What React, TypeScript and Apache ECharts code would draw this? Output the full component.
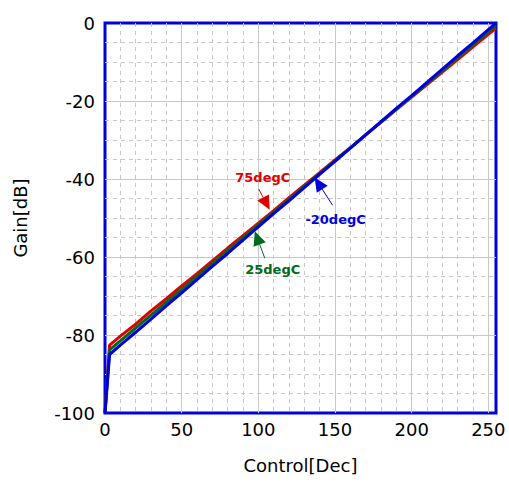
import React, { useEffect, useRef } from "react";
import * as echarts from "echarts";

const control = [0, 3, 10, 20, 30, 40, 50, 60, 70, 80, 90, 100, 110, 120, 130, 140, 150, 160, 170, 180, 190, 200, 210, 220, 230, 240, 250, 255];
const gain75 = [-100, -82.6, -80.3, -77.2, -73.8, -70.7, -67.4, -64.3, -61.0, -57.7, -54.5, -51.3, -48.1, -44.8, -41.6, -38.4, -35.1, -32.0, -28.7, -25.5, -22.2, -19.0, -15.8, -12.6, -9.4, -6.1, -2.9, -1.3];
const gain25 = [-100, -83.8, -81.5, -78.2, -74.9, -71.6, -68.3, -65.0, -61.7, -58.4, -55.1, -51.8, -48.5, -45.2, -41.9, -38.6, -35.3, -32.0, -28.7, -25.4, -22.1, -18.8, -15.5, -12.2, -8.9, -5.6, -2.3, -0.6];
const gainM20 = [-100, -85.0, -82.6, -79.3, -75.9, -72.5, -69.2, -65.8, -62.4, -59.1, -55.7, -52.3, -48.9, -45.6, -42.2, -38.8, -35.5, -32.1, -28.7, -25.3, -21.9, -18.6, -15.2, -11.8, -8.4, -5.1, -1.7, 0];

const seriesNames = ["75degC", "25degC", "-20degC"];
const seriesColors = ["#e00000", "#006a1e", "#0000dd"];

// annotation: label center, arrow tail, arrow tip (data coords)
const annotations = [
  { text: "75degC", color: "#e00000", label: [102.9, -39.7], tail: [100.3, -42.6], tip: [107.4, -47.9] },
  { text: "-20degC", color: "#0000dd", label: [150.4, -50.3], tail: [148.4, -46.7], tip: [136.7, -39.6] },
  { text: "25degC", color: "#006a1e", label: [109.4, -63.1], tail: [104.2, -60.3], tip: [97.7, -53.4] },
];

const FONT = "DejaVu Sans";

export default function App() {
  const ref = useRef<HTMLDivElement>(null);
  useEffect(() => {
    if (!ref.current) return;
    const chart = echarts.init(ref.current, null, { renderer: "svg" });
    const datas = [gain75, gain25, gainM20];
    const option: any = {
      animation: false,
      backgroundColor: "#ffffff",
      grid: {
        left: 105,
        right: 13,
        top: 23,
        bottom: 69,
        show: true,
        borderColor: "#0000dd",
        borderWidth: 3,
        backgroundColor: "transparent",
      },
      xAxis: {
        type: "value",
        min: 0,
        max: 255,
        interval: 50,
        name: "Control[Dec]",
        nameLocation: "middle",
        nameGap: 43,
        nameTextStyle: { fontFamily: FONT, fontSize: 18, color: "#000" },
        axisLine: { show: false },
        axisTick: { show: false },
        axisLabel: {
          fontFamily: FONT,
          fontSize: 18,
          color: "#000",
          margin: 7,
          showMaxLabel: false,
        },
        splitLine: { show: true, showMinLine: false, showMaxLine: false, lineStyle: { color: "#c8c8c8", width: 1 } },
        minorTick: { show: false, splitNumber: 5 },
        minorSplitLine: { show: true, lineStyle: { color: "#c8c8c8", type: [4, 4], width: 1 } },
      },
      yAxis: {
        type: "value",
        min: -100,
        max: 0,
        interval: 20,
        name: "Gain[dB]",
        nameLocation: "middle",
        nameGap: 76,
        nameRotate: 90,
        nameTextStyle: { fontFamily: FONT, fontSize: 18, color: "#000" },
        axisLine: { show: false },
        axisTick: { show: false },
        axisLabel: { fontFamily: FONT, fontSize: 18, color: "#000", margin: 10 },
        splitLine: { show: true, showMinLine: false, showMaxLine: false, lineStyle: { color: "#c8c8c8", width: 1 } },
        minorTick: { show: false, splitNumber: 4 },
        minorSplitLine: { show: true, lineStyle: { color: "#c8c8c8", type: [4, 4], width: 1 } },
      },
      series: datas.map((d, i) => ({
        name: seriesNames[i],
        type: "line",
        showSymbol: false,
        symbol: "none",
        data: control.map((c, j) => [c, d[j]]),
        lineStyle: { color: seriesColors[i], width: 3 },
        z: 3 + i,
      })),
    };
    chart.setOption(option);

    const graphics: any[] = [];
    annotations.forEach((a) => {
      const lp = chart.convertToPixel({ gridIndex: 0 }, a.label) as number[];
      const tp = chart.convertToPixel({ gridIndex: 0 }, a.tail) as number[];
      const hp = chart.convertToPixel({ gridIndex: 0 }, a.tip) as number[];
      const dx = hp[0] - tp[0];
      const dy = hp[1] - tp[1];
      const len = Math.sqrt(dx * dx + dy * dy);
      const ux = dx / len;
      const uy = dy / len;
      const headLen = 14;
      const halfW = 6.5;
      const bx = hp[0] - ux * headLen;
      const by = hp[1] - uy * headLen;
      graphics.push({
        type: "text",
        x: lp[0],
        y: lp[1],
        z: 20,
        style: {
          text: a.text,
          fontFamily: FONT,
          fontWeight: "bold",
          fontSize: 13,
          fill: a.color,
          align: "center",
          verticalAlign: "middle",
        },
      });
      graphics.push({
        type: "line",
        z: 20,
        shape: { x1: tp[0], y1: tp[1], x2: bx, y2: by },
        style: { stroke: a.color, lineWidth: 1 },
      });
      graphics.push({
        type: "polygon",
        z: 20,
        shape: {
          points: [
            [hp[0], hp[1]],
            [bx - uy * halfW, by + ux * halfW],
            [bx + uy * halfW, by - ux * halfW],
          ],
        },
        style: { fill: a.color },
      });
    });
    chart.setOption({ graphic: graphics });

    return () => chart.dispose();
  }, []);
  return (
    <div
      ref={ref}
      style={{ position: "fixed", left: 0, top: 0, width: 509, height: 482, background: "#fff" }}
    />
  );
}
